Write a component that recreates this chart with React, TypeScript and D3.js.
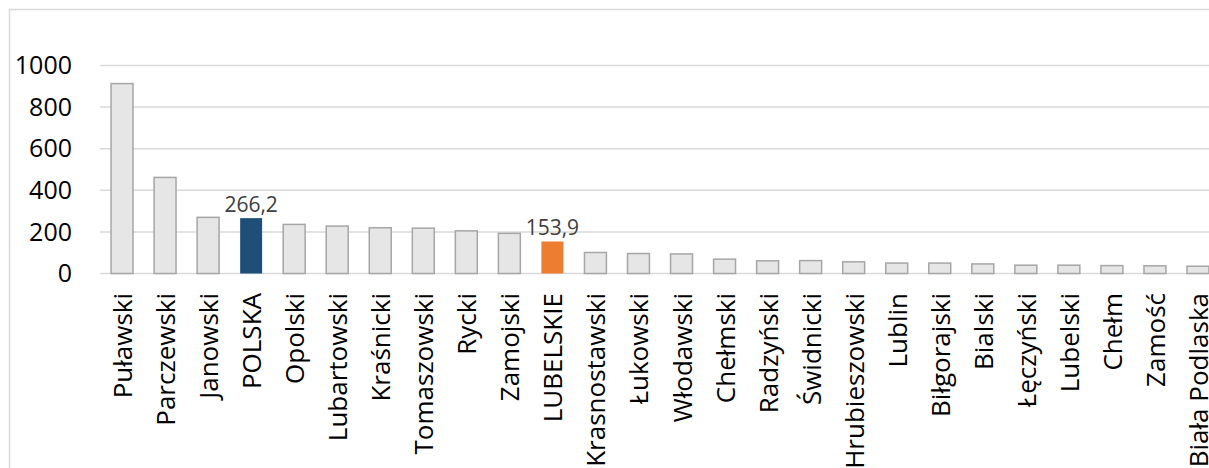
import * as d3 from 'd3';

const categories = [
  'Puławski', 'Parczewski', 'Janowski', 'POLSKA', 'Opolski', 'Lubartowski', 'Kraśnicki',
  'Tomaszowski', 'Rycki', 'Zamojski', 'LUBELSKIE', 'Krasnostawski', 'Łukowski', 'Włodawski',
  'Chełmski', 'Radzyński', 'Świdnicki', 'Hrubieszowski', 'Lublin', 'Biłgorajski', 'Bialski',
  'Łęczyński', 'Lubelski', 'Chełm', 'Zamość', 'Biała Podlaska',
];
const values = [
  913, 462, 270, 266.2, 236, 228, 220, 218, 205, 193, 153.9, 101, 96, 94,
  69, 61, 62, 56, 50, 50, 46, 40, 40, 38, 37, 35,
];
const yTicks = [0, 200, 400, 600, 800, 1000];
const highlighted: Record<string, string> = { POLSKA: '#1f4e79', LUBELSKIE: '#ed7d31' };

const W = 1209;
const H = 468;
const font = "'Open Sans', 'DejaVu Sans', sans-serif";

export default function App() {
  const x = d3.scaleBand<string>()
    .domain(categories)
    .range([100.5, 1219.5])
    .paddingInner(0.49)
    .paddingOuter(0.245);
  const y = d3.scaleLinear().domain([0, 1000]).range([273.5, 65.5]);
  const fmt = (v: number) => v.toFixed(1).replace('.', ',');

  return (
    <svg width={W} height={H} style={{ position: 'absolute', left: 0, top: 0, background: '#fff' }}>
      {/* chart frame, cut by the right and bottom edges */}
      <rect x={9.5} y={9.5} width={1300} height={600} fill="#fff" stroke="#d9d9d9" strokeWidth={1.5} />

      {/* gridlines */}
      {yTicks.map(t => (
        <line key={t} x1={100} x2={W + 20} y1={y(t)} y2={y(t)} stroke="#d9d9d9" strokeWidth={1.5} />
      ))}

      {/* y tick labels */}
      {yTicks.map(t => (
        <text key={'l' + t} x={72} y={y(t)} dy="0.35em" textAnchor="end"
          fontFamily={font} fontSize={25} fill="#000">{t}</text>
      ))}

      {/* bars */}
      {categories.map((c, i) => {
        const hl = highlighted[c];
        const bx = x(c) as number;
        return (
          <rect key={c} x={bx} y={y(values[i])} width={x.bandwidth()} height={y(0) - y(values[i])}
            fill={hl || '#e6e6e6'} stroke={hl ? 'none' : '#a6a6a6'} strokeWidth={hl ? 0 : 1.5} />
        );
      })}

      {/* data labels on highlighted bars */}
      {categories.map((c, i) => highlighted[c] ? (
        <text key={'d' + c} x={(x(c) as number) + x.bandwidth() / 2} y={y(values[i]) - 6}
          textAnchor="middle" fontFamily={font} fontSize={21} fill="#404040">{fmt(values[i])}</text>
      ) : null)}

      {/* category labels */}
      {categories.map(c => {
        const cx = (x(c) as number) + x.bandwidth() / 2 + 10;
        const cy = 293;
        return (
          <text key={'c' + c} transform={`translate(${cx},${cy}) rotate(-90)`} textAnchor="end"
            fontFamily={font} fontSize={26} fill="#000">{c}</text>
        );
      })}
    </svg>
  );
}
